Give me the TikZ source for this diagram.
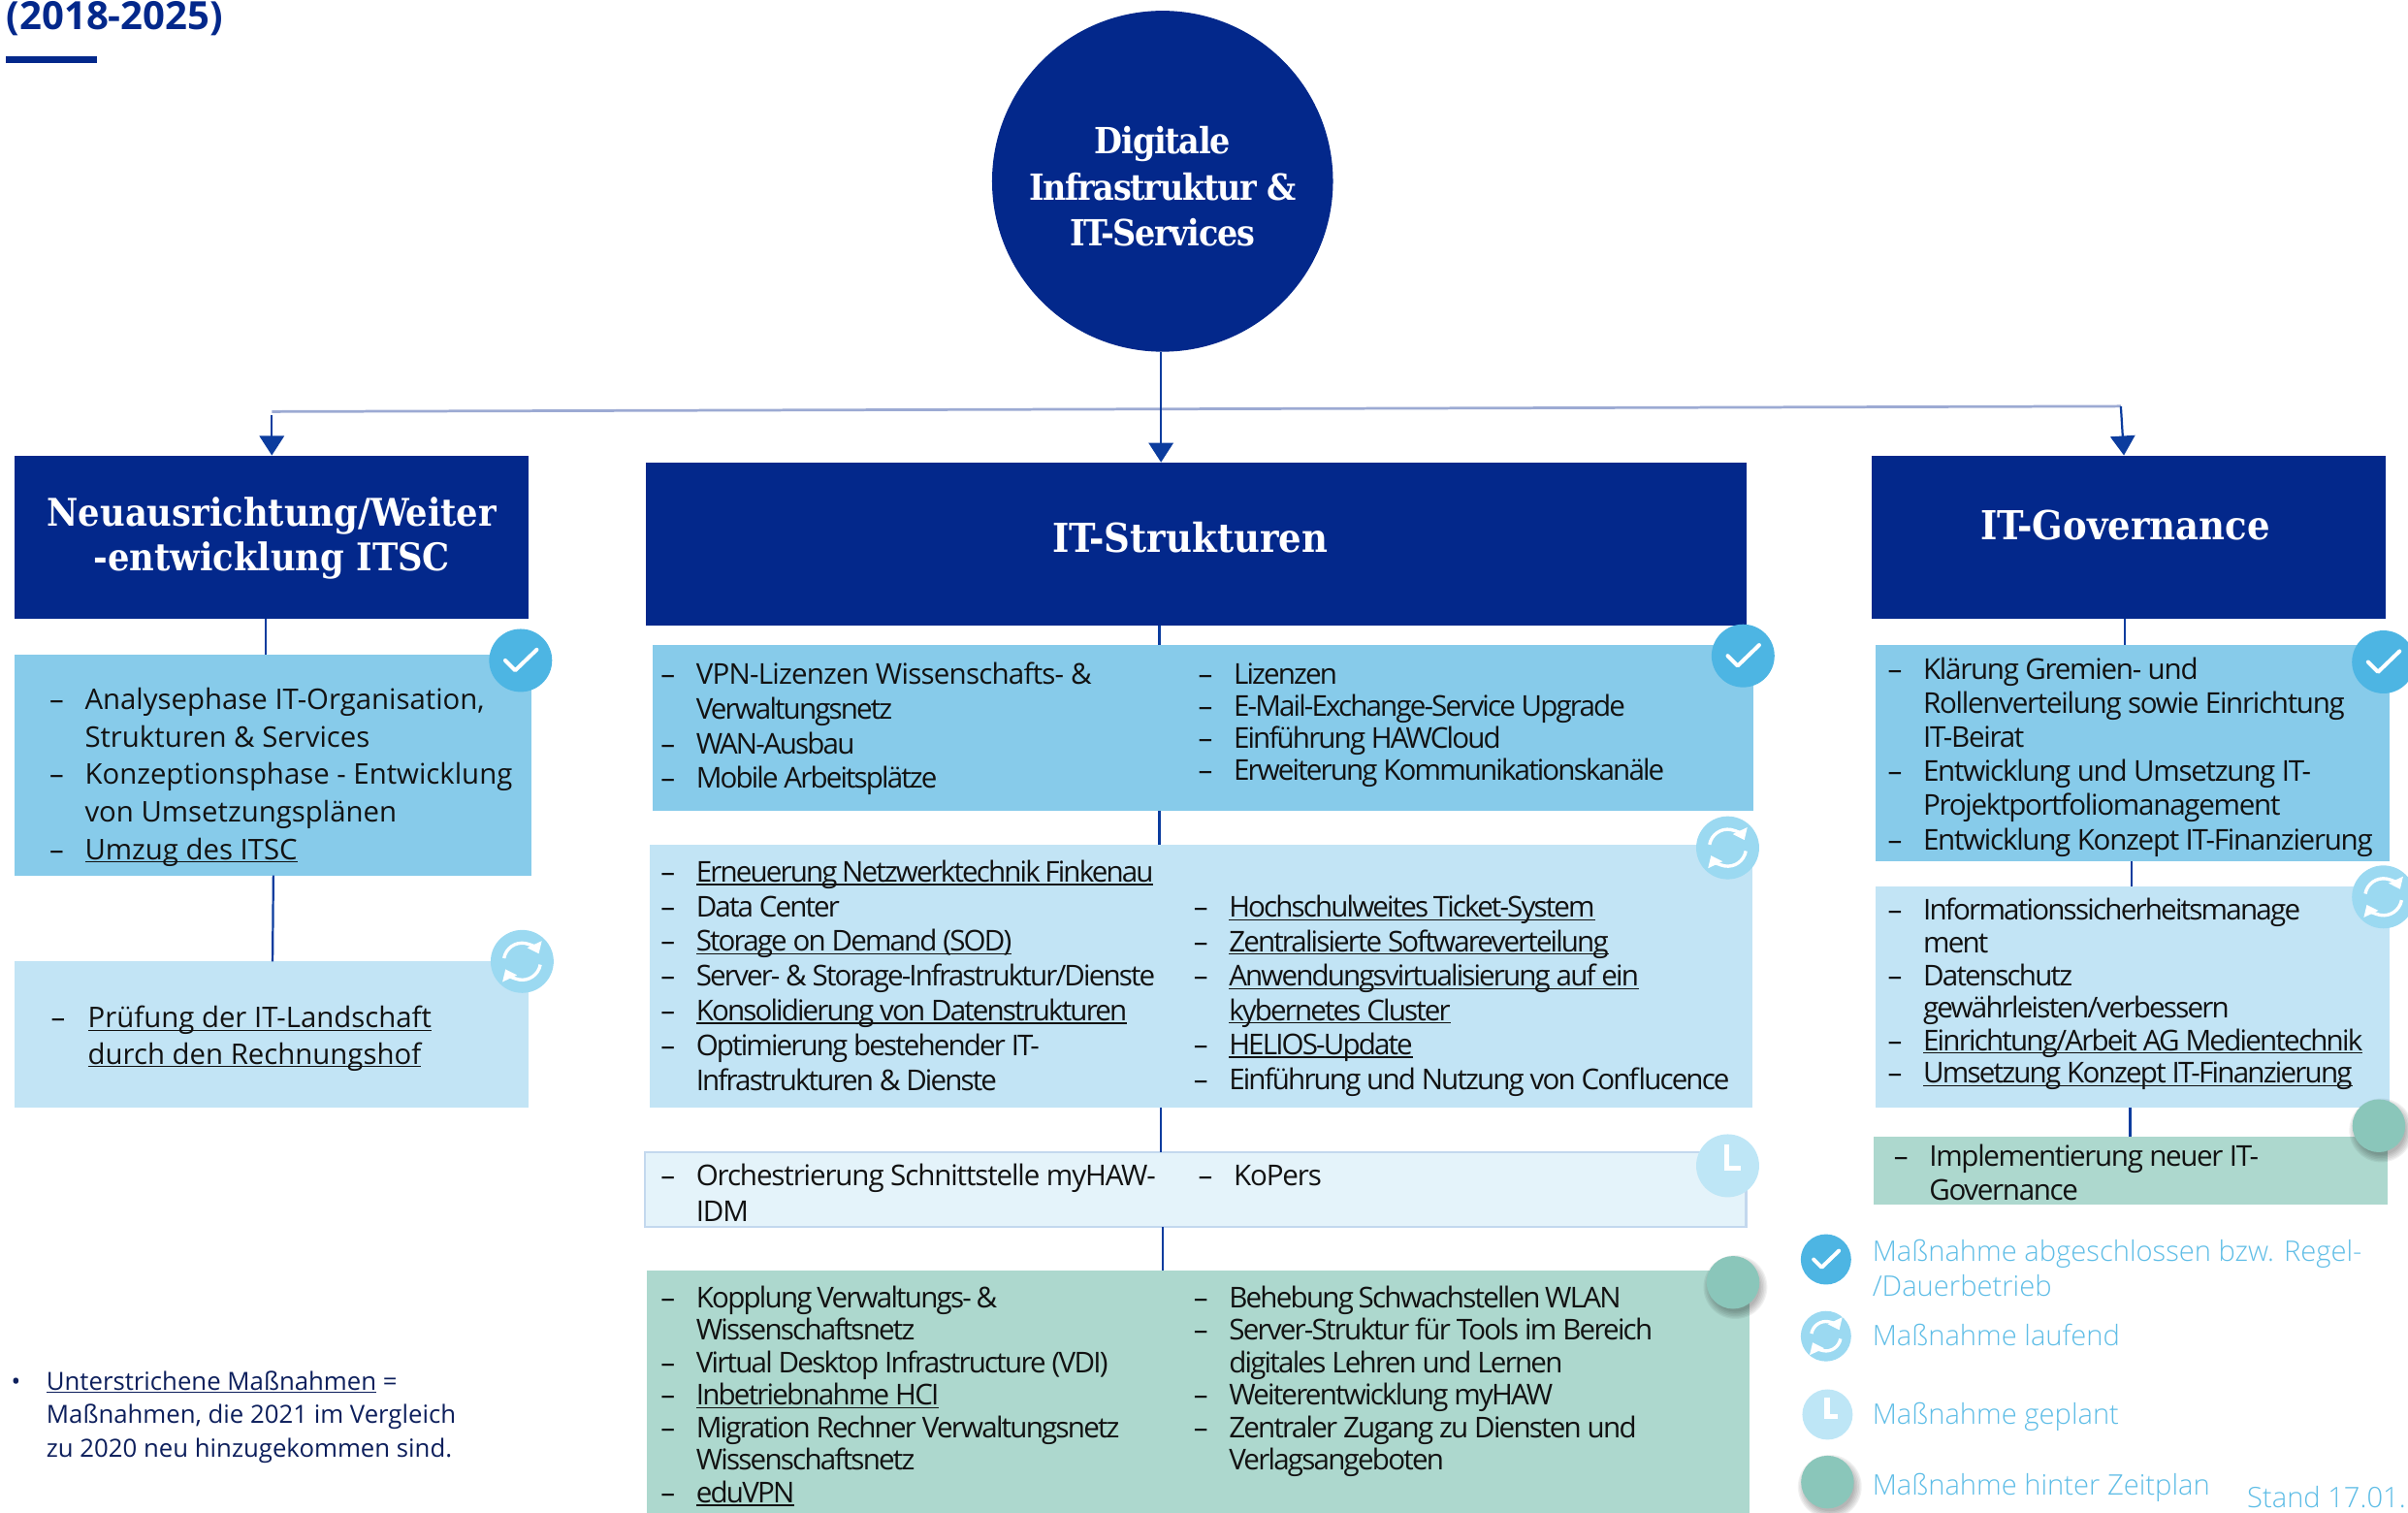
\documentclass[tikz,border=0pt]{standalone}
\usepackage{fontspec}
\setmainfont{Open Sans}
\newfontfamily\hdfont{DejaVu Serif Condensed}[BoldFont={DejaVu Serif Condensed Bold}]
\newfontfamily\lightf{Open Sans Light}
\usetikzlibrary{arrows.meta,fit}
\definecolor{navy}{HTML}{03288B}
\definecolor{lineblue}{HTML}{0B3C9E}
\definecolor{trunk}{HTML}{9CAAD3}
\definecolor{bdone}{HTML}{87CBEA}
\definecolor{brun}{HTML}{C2E4F5}
\definecolor{bplan}{HTML}{E4F3FA}
\definecolor{bplanline}{HTML}{C3D8EE}
\definecolor{blate}{HTML}{ADD8CE}
\definecolor{idone}{HTML}{4DB5E3}
\definecolor{irun}{HTML}{9BD9F1}
\definecolor{iplan}{HTML}{BEE6F6}
\definecolor{ilate}{HTML}{8AC6BA}
\definecolor{legendtext}{HTML}{5FBDE6}
\definecolor{foot}{HTML}{0D1F5C}
\newlength{\dashw}
\newcommand{\mi}[1]{\strut\makebox[\dashw][l]{–}#1}
\newcommand{\mc}[1]{\strut\hspace*{\dashw}#1}
\newcommand{\uln}[1]{\sbox0{#1}\rlap{\rule[-1.5pt]{\wd0}{0.65pt}}\usebox0}
\newcommand{\tight}[1]{{\addfontfeature{LetterSpace=-6.3}#1}}
\newcommand{\ws}{\spaceskip=0.8\fontdimen2\font\relax}
% name, x, first baseline y, font size, line skip, letter spacing, dash width, lines
\newcommand{\txtblock}[8]{%
  \pgfmathsetmacro{\lskip}{#5*0.75}%
  \setlength{\dashw}{0.75pt}\dashw=#7\dashw
  \node[listtext,yshift=#5*0.525pt,
    font={\fontsize{#4}{\lskip}\selectfont\addfontfeature{LetterSpace=#6}}]
    (#1) at (#2,#3) {#8};}
\newcommand{\boxn}[6]{\node[#6,fit={(#2,#3)(#4,#5)}] (#1) {};}
\tikzset{
  x=0.75pt,y=-0.75pt,
  listtext/.style={anchor=north west,inner sep=0pt,align=left,text=black!93},
  boxbase/.style={inner sep=0pt,outer sep=0pt,draw=none},
  header/.style={boxbase,fill=navy},
  done/.style={boxbase,fill=bdone},
  running/.style={boxbase,fill=brun},
  planned/.style={boxbase,fill=bplan,draw=bplanline,line width=1.1pt},
  late/.style={boxbase,fill=blate},
  conn/.style={draw=lineblue,line width=1.05pt},
  trunkline/.style={draw=trunk,line width=1.3pt},
  arrowconn/.style={conn,-{Triangle[width=12pt,length=9.5pt,fill=lineblue]}},
  hdtext/.style={text=white,align=center,inner sep=0pt,font=\hdfont\bfseries\fontsize{#1pt}{21.7pt}\selectfont},
  roottext/.style={text=white,align=center,inner sep=0pt,font=\hdfont\bfseries\fontsize{17.6pt}{22.5pt}\selectfont\addfontfeature{LetterSpace=-3.5}},
  legendlabel/.style={anchor=base west,inner sep=0pt,text=legendtext,align=left,font=\lightf\fontsize{13.8pt}{17.2pt}\selectfont},
  footlabel/.style={anchor=base west,inner sep=0pt,text=foot,align=left,font=\fontsize{12.2pt}{16.5pt}\selectfont},
  iconcheck/.pic={\fill[idone] (0,0) circle[radius=20.5];
    \draw[white,line width=1.9pt,line cap=round,line join=round] (-10,0)--(-3.5,6.5)--(10.5,-7);},
  iconrun/.pic={\fill[irun] (0,0) circle[radius=20.5];
    \draw[white,line width=1.6pt,-{Triangle[width=7.5pt,length=5pt]}] (190:12) arc[start angle=190,end angle=335,radius=12];
    \draw[white,line width=1.6pt,-{Triangle[width=7.5pt,length=5pt]}] (10:12) arc[start angle=10,end angle=155,radius=12];},
  iconplan/.pic={\fill[iplan] (0,0) circle[radius=20.5];
    \draw[white,line width=2.6pt] (-0.5,-14)--(-0.5,1.5)--(8.5,1.5);},
  iconlate/.pic={\foreach \r in {16,17,18,19,20,20.8}{\fill[black,opacity=0.055] (1.5,3) circle[radius=\r];}
    \fill[ilate] (0,0) circle[radius=17.2];},
}
\begin{document}
\begin{tikzpicture}
\useasboundingbox (0,0) rectangle (1568,984.5);

% title fragment
\node[anchor=base west,inner sep=0pt,text=navy,font=\bfseries\fontsize{19pt}{22pt}\selectfont] (title) at (4,19.5) {(2018-2025)};
\coordinate (ruleA) at (4,39); \coordinate (ruleB) at (63,39);
\draw[navy,line width=3.2pt] (ruleA) -- (ruleB);

% root
\node[circle,fill=navy,inner sep=0pt,minimum size=166.5pt,text=white] (root) at (757,118) {};
\node[roottext,anchor=center] (rootlabel) at (757,121.5) {Digitale\\Infrastruktur \&\\IT-Services};

% header boxes
\boxn{hA}{9.5}{296.5}{344}{403}{header}
\boxn{hB}{420.5}{301}{1137}{407}{header}
\boxn{hC}{1219}{296.5}{1553.5}{403}{header}
\node[hdtext=18.6] (hAlabel) at (177,350.5) {Neuausrichtung/Weiter\\-entwicklung ITSC};
\node[hdtext=19.5] (hBlabel) at (775,350) {IT-Strukturen};
\node[hdtext=19.5] (hClabel) at (1384,342) {IT-Governance};

% content boxes
\boxn{aOne}{9.5}{426}{346}{570}{done}
\boxn{aTwo}{9.5}{626}{344}{721}{running}
\boxn{bOne}{425}{420}{1142}{528}{done}
\boxn{bTwo}{423}{550}{1141}{721}{running}
\boxn{bThree}{420}{750}{1137}{799}{planned}
\boxn{bFour}{421}{827}{1139}{992}{late}
\boxn{cOne}{1221}{420}{1556}{561}{done}
\boxn{cTwo}{1221}{577}{1556}{721}{running}
\boxn{cThree}{1220}{740}{1555}{784}{late}

% trunk connectors
\coordinate (jl) at (177,268);
\coordinate (jr) at (1381,264.5);
\coordinate (jlb) at (177,270.5);
\coordinate (hCin) at (1383,296.5);
\draw[trunkline] (jl) -- (jr);
\draw[arrowconn] (root.south -| 756,0) -- (hB.north -| 756,0);
\draw[arrowconn] (jlb) -- (jlb |- hA.north);
\draw[arrowconn] (jr) -- (hCin);

% column connectors
\draw[conn] (hA.south -| 173,0) -- (aOne.north -| 173,0);
\draw[conn] (aOne.south -| 178,0) -- (aTwo.north -| 177.5,0);
\draw[conn] (hB.south -| 755,0) -- (bOne.north -| 755,0);
\draw[conn] (bOne.south -| 755,0) -- (bTwo.north -| 755,0);
\draw[conn] (bTwo.south -| 756,0) -- (bThree.north -| 756,0);
\draw[conn] (bThree.south -| 757,0) -- (bFour.north -| 757,0);
\draw[conn] (hC.south -| 1383.5,0) -- (cOne.north -| 1383.5,0);
\draw[conn] (cOne.south -| 1388,0) -- (cTwo.north -| 1388,0);
\draw[conn] (cTwo.south -| 1387,0) -- (cThree.north -| 1387,0);

% lists
\txtblock{aOneT}{32}{461.7}{13.9}{24.4}{0}{23}{\mi{Analysephase IT-Organisation,}\\\mc{Strukturen \& Services}\\\mi{Konzeptionsphase - Entwicklung}\\\mc{von Umsetzungsplänen}\\\mi{\uln{Umzug des ITSC}}}
\txtblock{aTwoT}{33}{669}{13.9}{23.5}{0}{24}{\mi{\uln{Prüfung der IT-Landschaft}}\\\mc{\uln{durch den Rechnungshof}}}
\txtblock{bOneL}{430}{445.5}{14}{22.5}{-2.7}{23}{\mi{VPN-Lizenzen Wissenschafts- \&}\\\mc{\tight{Verwaltungsnetz}}\\\mi{\tight{WAN-Ausbau}}\\\mi{\tight{Mobile Arbeitsplätze}}}
\txtblock{bOneR}{780}{445}{14}{21}{-6.3}{23}{\mi{Lizenzen}\\\mi{E-Mail-Exchange-Service Upgrade}\\\mi{Einführung HAWCloud}\\\mi{Erweiterung Kommunikationskanäle}}
\txtblock{bTwoL}{430}{574}{14}{22.6}{-6.3}{23}{\ws\mi{\uln{Erneuerung Netzwerktechnik Finkenau}}\\\mi{Data Center}\\\mi{\uln{Storage on Demand (SOD)}}\\\mi{Server- \& Storage-Infrastruktur/Dienste}\\\mi{\uln{Konsolidierung von Datenstrukturen}}\\\mi{Optimierung bestehender IT-}\\\mc{Infrastrukturen \& Dienste}}
\txtblock{bTwoR}{777}{597}{14}{22.4}{-6.3}{23}{\ws\mi{\uln{Hochschulweites Ticket-System}}\\\mi{\uln{Zentralisierte Softwareverteilung}}\\\mi{\uln{Anwendungsvirtualisierung auf ein}}\\\mc{\uln{kybernetes Cluster}}\\\mi{\uln{HELIOS-Update}}\\\mi{Einführung und Nutzung von Conflucence}}
\txtblock{bThreeL}{430}{772}{14}{23}{-3.8}{23}{\mi{Orchestrierung Schnittstelle myHAW-}\\\mc{IDM}}
\txtblock{bThreeR}{780}{772}{14}{23}{-3.8}{23}{\mi{KoPers}}
\txtblock{bFourL}{430}{851}{14}{21.2}{-6}{23}{\ws\mi{Kopplung Verwaltungs- \&}\\\mc{Wissenschaftsnetz}\\\mi{Virtual Desktop Infrastructure (VDI)}\\\mi{\uln{Inbetriebnahme HCI}}\\\mi{Migration Rechner Verwaltungsnetz}\\\mc{Wissenschaftsnetz}\\\mi{\uln{eduVPN}}}
\txtblock{bFourR}{777}{851}{14}{21.2}{-6}{23}{\ws\mi{Behebung Schwachstellen WLAN}\\\mi{Server-Struktur für Tools im Bereich}\\\mc{digitales Lehren und Lernen}\\\mi{Weiterentwicklung myHAW}\\\mi{Zentraler Zugang zu Diensten und}\\\mc{Verlagsangeboten}}
\txtblock{cOneT}{1229}{442}{14}{22.2}{-4.3}{23}{\mi{Klärung Gremien- und}\\\mc{Rollenverteilung sowie Einrichtung}\\\mc{IT-Beirat}\\\mi{Entwicklung und Umsetzung IT-}\\\mc{Projektportfoliomanagement}\\\mi{Entwicklung Konzept IT-Finanzierung}}
\txtblock{cTwoT}{1229}{599}{14}{21.2}{-6}{23}{\ws\mi{Informationssicherheitsmanage}\\\mc{ment}\\\mi{Datenschutz}\\\mc{gewährleisten/verbessern}\\\mi{\uln{Einrichtung/Arbeit AG Medientechnik}}\\\mi{\uln{Umsetzung Konzept IT-Finanzierung}}}
\txtblock{cThreeT}{1233}{759}{14}{22}{-4.5}{23}{\mi{Implementierung neuer IT-}\\\mc{Governance}}

% status icons
\pic at (339,430) {iconcheck};
\pic at (1135,427) {iconcheck};
\pic at (1552,431) {iconcheck};
\pic at (340,626) {iconrun};
\pic at (1125,552) {iconrun};
\pic at (1552,584) {iconrun};
\pic at (1125,759) {iconplan};
\pic at (1128.5,835) {iconlate};
\pic at (1549,733) {iconlate};

% legend
\pic[scale=0.8] at (1189,820) {iconcheck};
\pic[scale=0.8] at (1189,870) {iconrun};
\pic[scale=0.8] at (1190,921) {iconplan};
\pic at (1190,965) {iconlate};
\node[legendlabel] (legOne) at (1219,844) {Maßnahme abgeschlossen bzw. Regel-\\/Dauerbetrieb};
\node[legendlabel] (legTwo) at (1219,876) {Maßnahme laufend};
\node[legendlabel] (legThree) at (1219,927.5) {Maßnahme geplant};
\node[legendlabel] (legFour) at (1219,973.5) {Maßnahme hinter Zeitplan};
\node[legendlabel] (stand) at (1463,981.5) {Stand 17.01.};

% footnote
\node[footlabel] (bullet) at (7,905) {•};
\node[footlabel] (footnote) at (30,949) {\uln{Unterstrichene Maßnahmen} =\\Maßnahmen, die 2021 im Vergleich\\zu 2020 neu hinzugekommen sind.};
\end{tikzpicture}
\end{document}
